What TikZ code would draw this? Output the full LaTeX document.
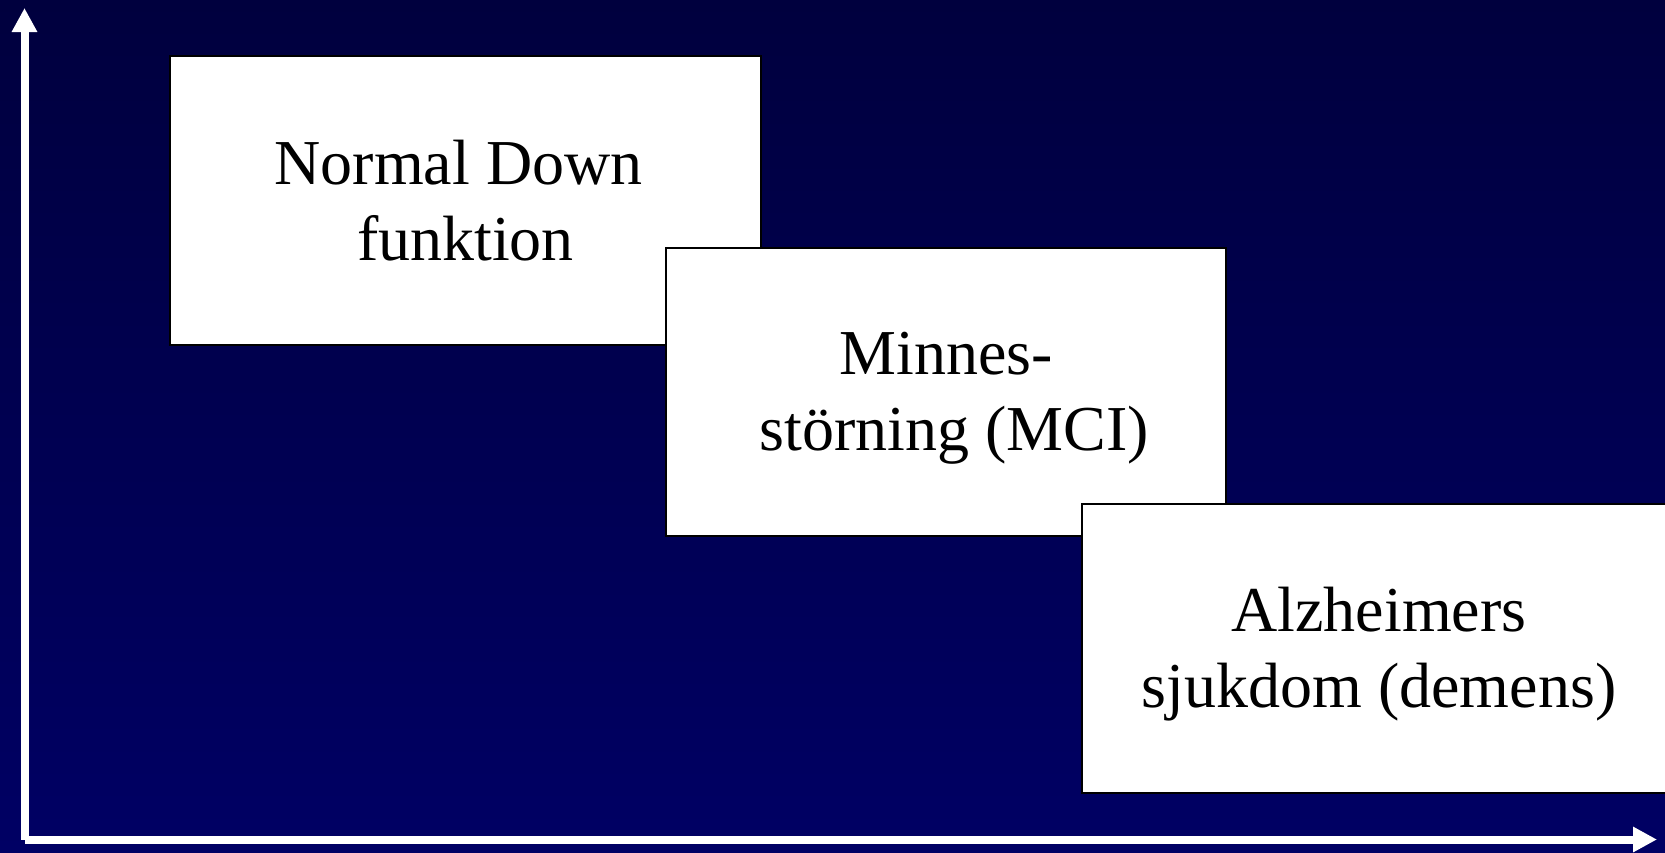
\documentclass[tikz,border=0pt]{standalone}
\usepackage{fontspec}
\setmainfont{Liberation Serif}
\usetikzlibrary{arrows.meta}
\definecolor{bgtop}{RGB}{0,0,62}
\definecolor{bgbot}{RGB}{0,0,100}
\tikzset{
  stagebox/.style={draw=black, fill=white, line width=2pt, rectangle, inner sep=0pt,
    anchor=north west},
  stagetext/.style={align=center, inner sep=0pt, font=\fontsize{64}{76}\selectfont},
  axisline/.style={draw=white, line width=8pt, -{Triangle[width=24pt,length=24pt]}},
}
\begin{document}
\begin{tikzpicture}[x=1pt,y=-1pt]
\useasboundingbox (0,0) rectangle (1665,852);
\clip (0,0) rectangle (1665,852);
\shade[top color=bgtop, bottom color=bgbot] (0,0) rectangle (1665,852);
\coordinate (origin) at (24.5,839.5);
\coordinate (ytop) at (24.5,8);
\coordinate (xend) at (1657,839.5);
\draw[axisline] (origin) -- (ytop);
\draw[axisline] (origin) -- (xend);
\node[stagebox, minimum width=591pt, minimum height=289pt] (normal) at (169,55) {};
\node[stagetext] (normaltext) at ([yshift=0pt]normal.center) {Normal Down\hspace*{14pt}\\funktion};
\node[stagebox, minimum width=560pt, minimum height=288pt] (mci) at (665,247) {};
\node[stagetext] (mcitext) at ([yshift=-6pt]mci.center) {Minnes-\\\hspace*{16pt}störning (MCI)};
\node[stagebox, minimum width=594pt, minimum height=289pt] (alz) at (1081,503) {};
\node[stagetext] (alztext) at ([yshift=-6pt]alz.center) {Alzheimers\\sjukdom (demens)};
\end{tikzpicture}
\end{document}
